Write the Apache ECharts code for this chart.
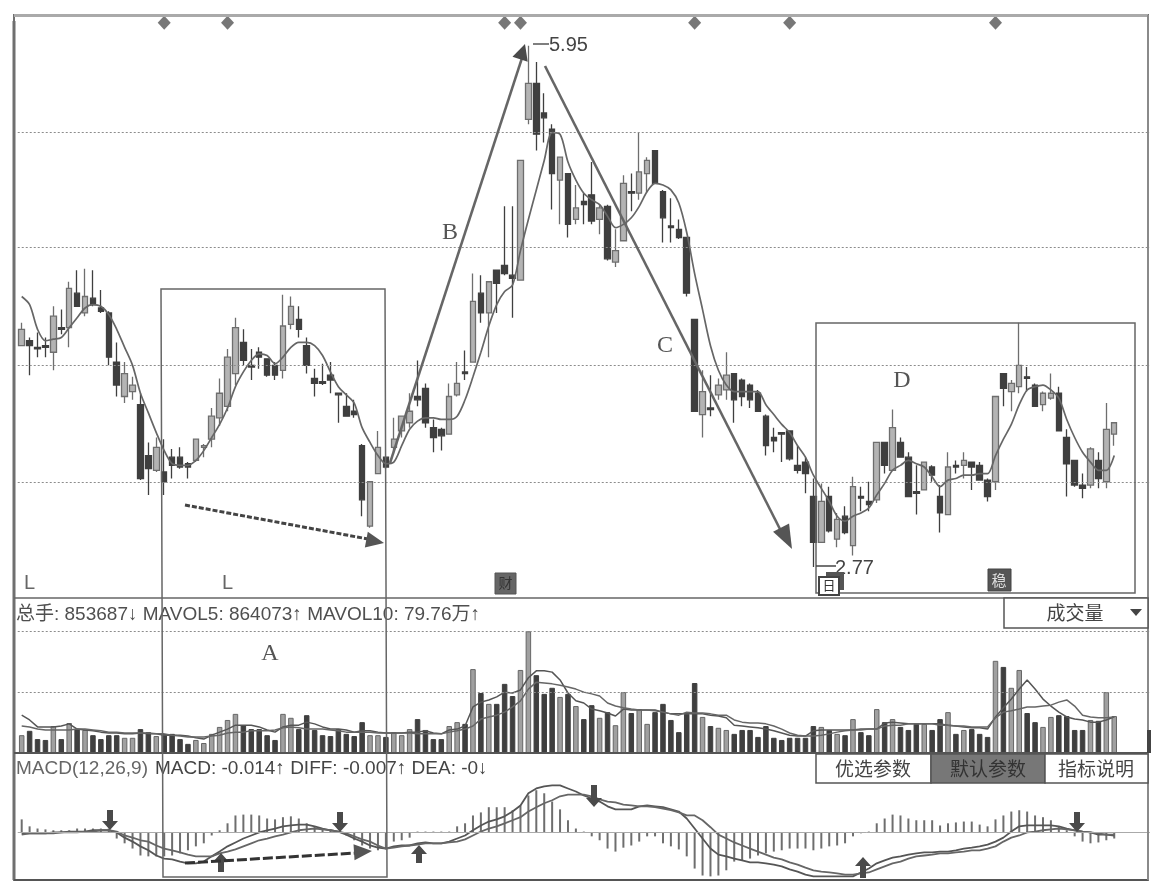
<!DOCTYPE html>
<html><head><meta charset="utf-8">
<style>html,body{margin:0;padding:0;background:#fff}#c{width:1168px;height:894px}</style>
<script src="https://cdn.jsdelivr.net/npm/echarts@6/dist/echarts.min.js"></script>
</head><body><div id="c"></div>
<script>
const opens=[4.12,4.15,4.11,4.12,4.08,4.23,4.23,4.44,4.32,4.41,
4.35,4.32,4.02,3.81,3.84,3.76,3.45,3.36,3.35,3.44,
3.44,3.40,3.42,3.50,3.55,3.68,3.75,3.95,4.14,4.00,
4.08,4.04,4.00,3.97,4.25,4.28,4.12,3.92,3.90,3.94,
3.83,3.75,3.72,3.51,3.02,3.34,3.44,3.50,3.60,3.65,
3.81,3.86,3.62,3.61,3.58,3.82,3.96,4.02,4.44,4.32,
4.58,4.61,4.55,4.52,5.50,5.72,5.54,5.44,5.13,5.17,
4.89,5.00,5.04,4.89,4.97,4.63,4.76,5.06,5.05,5.17,
5.31,5.06,4.85,4.83,4.78,4.28,3.70,3.74,3.82,3.85,
3.95,3.91,3.88,3.83,3.69,3.56,3.59,3.60,3.39,3.41,
3.20,2.92,3.20,2.94,3.08,2.90,3.20,3.17,3.18,3.53,
3.36,3.53,3.44,3.23,3.24,3.38,3.20,3.09,3.39,3.39,
3.41,3.39,3.30,3.29,3.95,3.84,3.87,3.93,3.88,3.76,
3.80,3.83,3.56,3.42,3.27,3.27,3.42,3.29,3.58];
const closes=[4.22,4.12,4.10,4.11,4.30,4.22,4.47,4.36,4.42,4.37,
4.33,4.05,3.88,3.95,3.88,3.31,3.37,3.50,3.29,3.39,
3.38,3.38,3.55,3.51,3.69,3.83,4.05,4.23,4.03,3.99,
4.05,3.94,3.94,4.24,4.36,4.22,4.00,3.89,3.89,3.91,
3.82,3.69,3.70,3.18,3.29,3.50,3.38,3.55,3.69,3.72,
3.79,3.65,3.56,3.57,3.81,3.89,3.95,4.39,4.32,4.51,
4.50,4.56,4.53,5.25,5.72,5.41,5.51,5.17,5.27,4.86,
4.96,4.98,4.88,4.96,4.65,4.70,5.11,5.05,5.18,5.25,
5.11,4.90,4.84,4.78,4.44,3.72,3.84,3.73,3.88,3.94,
3.79,3.81,3.79,3.72,3.51,3.54,3.58,3.43,3.36,3.34,
2.92,3.17,2.99,3.06,2.98,3.26,3.19,3.15,3.53,3.39,
3.62,3.44,3.20,3.22,3.41,3.33,3.10,3.38,3.38,3.42,
3.38,3.30,3.20,3.81,3.86,3.89,4.00,3.92,3.75,3.83,
3.83,3.60,3.40,3.27,3.25,3.49,3.31,3.61,3.65];
const highs=[4.26,4.17,4.20,4.17,4.36,4.34,4.51,4.58,4.59,4.58,
4.46,4.33,4.14,4.02,3.93,3.83,3.53,3.56,3.55,3.49,
3.50,3.41,3.55,3.52,3.74,3.92,4.10,4.29,4.22,4.10,
4.11,4.04,4.02,4.43,4.42,4.36,4.17,3.98,4.01,4.02,
3.83,3.83,3.79,3.52,3.29,3.60,3.44,3.68,3.69,3.83,
4.03,3.89,3.67,3.62,3.89,4.02,4.09,4.56,4.55,4.51,
4.58,4.97,4.97,5.25,5.95,5.85,5.66,5.47,5.27,5.17,
5.10,5.05,5.24,4.98,4.98,4.83,5.16,5.17,5.42,5.27,
5.31,5.07,5.02,4.89,4.78,4.28,3.97,3.94,3.92,4.08,
3.95,3.92,3.89,3.85,3.70,3.62,3.59,3.60,3.51,3.44,
3.31,3.28,3.26,3.10,3.14,3.32,3.26,3.29,3.53,3.53,
3.73,3.56,3.47,3.39,3.41,3.39,3.27,3.47,3.42,3.47,
3.41,3.41,3.31,3.81,3.95,3.91,4.26,3.99,3.89,3.84,
3.95,3.87,3.61,3.42,3.34,3.50,3.47,3.77,3.65];
const lows=[4.12,3.94,4.05,4.05,3.97,4.19,4.11,4.36,4.30,4.36,
4.32,4.00,3.81,3.77,3.79,3.30,3.21,3.35,3.21,3.31,
3.37,3.31,3.41,3.44,3.50,3.63,3.72,3.88,4.00,3.91,
3.98,3.93,3.91,3.92,4.22,4.17,3.95,3.81,3.88,3.83,
3.65,3.69,3.68,3.08,3.01,3.34,3.37,3.47,3.56,3.62,
3.75,3.62,3.47,3.48,3.58,3.81,3.91,4.02,4.26,4.05,
4.32,4.55,4.29,4.52,5.47,5.31,5.36,4.95,4.86,4.78,
4.86,4.86,4.86,4.80,4.64,4.60,4.76,4.94,5.01,5.05,
5.11,4.75,4.75,4.77,4.42,3.72,3.56,3.69,3.79,3.79,
3.65,3.75,3.74,3.72,3.45,3.47,3.41,3.42,3.34,3.22,
2.77,2.92,2.98,2.89,2.97,2.84,3.11,3.11,3.16,3.34,
3.36,3.44,3.20,3.09,3.24,3.29,2.98,3.09,3.34,3.31,
3.24,3.30,3.17,3.24,3.75,3.72,3.83,3.84,3.75,3.72,
3.79,3.60,3.20,3.26,3.19,3.25,3.25,3.25,3.51];
const priceMA=[4.42,4.37,4.22,4.15,4.16,4.17,4.23,4.29,4.35,4.37,
4.36,4.31,4.22,4.11,4.00,3.83,3.71,3.59,3.48,3.40,
3.39,3.39,3.42,3.48,3.56,3.64,3.74,3.87,3.96,4.03,
4.07,4.06,4.01,4.05,4.11,4.14,4.14,4.12,4.06,3.96,
3.87,3.82,3.77,3.62,3.53,3.45,3.40,3.41,3.51,3.61,
3.66,3.68,3.68,3.67,3.67,3.69,3.79,3.93,4.08,4.24,
4.37,4.45,4.49,4.70,4.89,5.07,5.25,5.42,5.41,5.24,
5.13,5.05,5.01,4.98,4.91,4.84,4.86,4.90,4.97,5.06,
5.11,5.10,5.07,4.99,4.81,4.56,4.34,4.12,3.97,3.88,
3.84,3.84,3.84,3.84,3.76,3.70,3.64,3.59,3.51,3.44,
3.33,3.25,3.17,3.08,3.05,3.08,3.10,3.13,3.21,3.28,
3.36,3.39,3.42,3.40,3.38,3.32,3.26,3.30,3.31,3.33,
3.33,3.34,3.34,3.45,3.55,3.64,3.76,3.85,3.87,3.88,
3.85,3.80,3.67,3.56,3.47,3.41,3.36,3.36,3.45];
const volumes=[41,51,32,30,62,32,69,55,53,41,
32,41,41,35,35,55,48,39,44,44,
32,21,30,23,44,60,76,90,64,55,
55,41,30,90,81,55,87,53,41,39,
55,44,39,71,41,41,37,48,41,55,
78,53,32,32,62,71,67,193,138,113,
113,159,131,191,280,179,136,150,129,136,
108,78,110,81,94,64,140,92,101,67,
94,113,76,48,90,161,83,62,58,53,
44,53,53,37,62,35,30,35,35,35,
62,60,53,44,41,78,48,41,101,71,
78,60,53,67,67,53,78,94,44,53,
55,44,37,212,198,150,191,92,71,60,
83,87,85,53,53,76,74,140,85];
const mavol5=[87,76,60,60,60,62,67,55,53,51,
48,46,46,44,44,46,44,44,41,41,
41,39,35,32,41,48,55,64,64,64,
60,53,48,60,64,64,71,67,60,55,
55,53,48,51,51,48,46,46,46,48,
48,51,46,44,53,55,62,106,117,122,
129,140,138,145,173,189,189,186,168,138,
120,115,101,97,92,85,101,99,99,99,
99,94,90,90,90,90,90,87,85,81,
64,62,60,58,55,51,46,41,39,39,
51,53,53,53,53,53,55,55,55,69,
71,69,67,67,67,67,67,64,62,60,
58,58,55,83,104,124,147,168,147,124,
108,94,83,78,76,71,71,76,83];
const mavol10=[62,60,55,53,53,53,53,55,55,53,
51,48,48,46,46,46,46,44,44,41,
39,37,37,37,39,41,46,48,48,51,
51,51,53,58,60,58,55,55,55,53,
51,48,48,48,48,46,46,46,46,46,
44,44,44,44,48,51,55,62,78,83,
87,94,106,120,147,163,161,159,156,152,
147,140,136,131,115,108,104,101,99,99,
97,94,90,87,94,92,92,90,87,87,
76,71,69,69,67,62,55,46,41,39,
39,41,44,48,51,53,53,55,55,62,
64,64,67,67,67,67,64,64,62,62,
60,60,60,81,94,97,101,106,106,108,
110,117,122,108,87,83,81,81,83];
const diffLine=[-.002,-.002,-.002,-.002,0,0,.002,.002,.002,.005,
.005,.005,0,-.012,-.021,-.032,-.041,-.053,-.060,-.062,
-.067,-.071,-.071,-.067,-.055,-.044,-.032,-.023,-.014,-.007,
0,.005,.009,.014,.016,.018,.018,.014,.009,.005,
.002,-.005,-.014,-.021,-.030,-.035,-.037,-.032,-.030,-.030,
-.025,-.023,-.025,-.025,-.021,-.014,-.007,.005,.016,.025,
.030,.037,.048,.062,.090,.101,.106,.108,.108,.101,
.094,.085,.078,.071,.060,.053,.053,.053,.060,.062,
.060,.058,.053,.048,.032,.009,-.014,-.037,-.051,-.055,
-.060,-.064,-.069,-.069,-.071,-.074,-.078,-.085,-.090,-.097,
-.101,-.101,-.101,-.101,-.101,-.101,-.092,-.083,-.071,-.064,
-.058,-.055,-.051,-.048,-.046,-.046,-.044,-.044,-.041,-.037,
-.035,-.032,-.028,-.021,-.012,.002,.014,.016,.016,.016,
.016,.014,.009,.005,.002,0,-.005,-.005,-.007];
const deaLine=[-.005,-.002,-.002,-.002,-.002,0,0,0,.002,.002,
.005,.005,.002,-.007,-.012,-.018,-.021,-.030,-.037,-.041,
-.046,-.051,-.055,-.055,-.055,-.048,-.044,-.039,-.032,-.025,
-.018,-.014,-.009,-.005,0,.005,.007,.009,.007,.005,
.002,-.002,-.009,-.016,-.021,-.030,-.037,-.035,-.032,-.030,
-.028,-.025,-.025,-.025,-.023,-.021,-.016,-.007,.002,.009,
.014,.021,.028,.035,.048,.058,.067,.074,.083,.087,
.087,.087,.083,.076,.071,.069,.064,.062,.060,.060,
.058,.055,.051,.046,.039,.039,.028,.012,-.005,-.014,
-.023,-.030,-.037,-.044,-.051,-.058,-.062,-.069,-.074,-.081,
-.087,-.090,-.092,-.094,-.097,-.097,-.094,-.092,-.085,-.078,
-.071,-.067,-.060,-.055,-.053,-.051,-.048,-.048,-.046,-.044,
-.041,-.041,-.037,-.032,-.021,-.012,-.007,0,.002,.005,
.007,.009,.007,.005,.002,0,-.002,-.005,-.005];
const macdHist=[.030,.014,.009,.007,.005,.005,.005,.009,.009,.009,
.009,.009,-.014,-.025,-.037,-.053,-.055,-.055,-.055,-.053,
-.048,-.041,-.032,-.025,-.007,.005,.021,.039,.041,.041,
.039,.032,.030,.035,.037,.032,.021,.014,.009,.007,
.002,-.007,-.018,-.030,-.037,-.041,-.037,-.021,-.018,-.012,
.002,.002,.002,.002,.002,.014,.021,.039,.046,.058,
.058,.058,.051,.062,.085,.097,.090,.071,.053,.028,
.009,.002,-.009,-.018,-.037,-.044,-.035,-.030,-.021,-.009,
-.009,-.025,-.032,-.039,-.055,-.083,-.099,-.101,-.099,-.087,
-.067,-.064,-.060,-.053,-.048,-.044,-.041,-.037,-.037,-.037,
-.041,-.037,-.032,-.030,-.025,-.009,-.002,.002,.021,.032,
.041,.039,.032,.028,.028,.028,.016,.021,.023,.025,
.025,.018,.014,.030,.039,.048,.051,.048,.039,.035,
.028,.014,.005,-.009,-.021,-.025,-.023,-.018,-.014];
const priceLevels=[5.42,4.72,4.00,3.29];
const volumeLevels=[140.3,280];
const macdLevels=[.108];
const signalBars=[18,26,61,63,85,97,123];
const signalPrice=6.09;

const categories=Array.from({length:opens.length+4},(_,i)=>String(i+1));
const candleData=opens.map((o,i)=>[o,closes[i],lows[i],highs[i]]);
const UP='#b4b4b4',DOWN='#3f3f3f',EDGE='#6e6e6e';
const volData=volumes.map((v,i)=>({value:v,itemStyle:closes[i]>=opens[i]?{color:'#a0a0a0',borderColor:'#666',borderWidth:1}:{color:DOWN,borderColor:DOWN,borderWidth:1}}));
const FRAME='#6f6f6f',INK='#555';
const SANS='"Liberation Sans","Noto Sans CJK SC",sans-serif';
const SERIF='"Liberation Serif","DejaVu Serif",serif';
const g=[];
const line=(x1,y1,x2,y2,stroke,w,dash)=>g.push({type:'line',shape:{x1,y1,x2,y2},style:{stroke,lineWidth:w,lineDash:dash||null}});
const poly=(pts,fill,stroke,w)=>g.push({type:'polygon',shape:{points:pts},style:{fill:fill||'none',stroke:stroke||null,lineWidth:w||0}});
const text=(s,x,y,font,fill,align)=>g.push({type:'text',style:{text:s,x,y,font,fill:fill||INK,textAlign:align||'left',textVerticalAlign:'middle'}});
const rect=(x,y,width,height,fill,stroke,w)=>g.push({type:'rect',shape:{x,y,width,height},style:{fill:fill||'none',stroke:stroke||null,lineWidth:w||0}});
function head(x1,y1,x2,y2,len,wid,col){const a=Math.atan2(y2-y1,x2-x1),c=Math.cos(a),s=Math.sin(a);
 poly([[x2,y2],[x2-len*c-wid*s,y2-len*s+wid*c],[x2-len*c+wid*s,y2-len*s-wid*c]],col);}
function block(x,yTail,yTip,col){const d=yTip>yTail?1:-1;
 poly([[x,yTip],[x-8,yTip-d*9],[x-3,yTip-d*9],[x-3,yTail],[x+3,yTail],[x+3,yTip-d*9],[x+8,yTip-d*9]],col||'#4a4a4a');}
// frame
rect(14,15,1134,865,null,FRAME,2);
line(14,15.5,1148,15.5,'#aaa',3);
line(14,21,14,880,FRAME,3);
line(14,598,1148,598,'#666',1.5);
line(14,753,1148,753,'#555',2);
line(14,880,1148,880,'#555',2);
line(1148,15,1148,880,'#8a8a8a',2);
line(1149,730,1149,753,'#444',4);
// dropdown & buttons
rect(1004,598,144,30,'#fff','#555',1.5);
text('成交量',1075,615,'19px '+SANS,'#444','center');
poly([[1130,609],[1142,609],[1136,616]],'#444');
rect(816,754,115,29,'#fff','#555',1.5);
rect(931,754,114,29,'#777','#555',1.5);
rect(1045,754,103,29,'#fff','#555',1.5);
text('优选参数',873,771,'19px '+SANS,'#444','center');
text('默认参数',988,771,'19px '+SANS,'#333','center');
text('指标说明',1096,771,'19px '+SANS,'#444','center');
// headers
text('总手: 853687↓ MAVOL5: 864073↑ MAVOL10: 79.76万↑',16,615,'19px '+SANS,'#4f4f4f');
text('MACD(12,26,9)',16,769,'19px '+SANS,'#666');
text('MACD: -0.014↑ DIFF: -0.007↑ DEA: -0↓',155,769,'19px '+SANS,'#444');
// boxes
poly([[161,289],[385,289],[387,877],[163,877]],null,'#666',1.5);
poly([[816,323],[1135,323],[1135,593],[816,593]],null,'#666',1.5);
// letters
text('A',270,654,'24px '+SERIF,'#555','center');
text('B',450,233,'24px '+SERIF,'#555','center');
text('C',665,346,'24px '+SERIF,'#555','center');
text('D',902,381,'24px '+SERIF,'#555','center');
// trend arrows
line(390,463,522,58,'#666',2.5);
head(390,463,525,44,16,8,'#4a4a4a');
line(533,44,549,44,'#555',1.5);
text('5.95',549,45,'20px '+SANS,'#444');
line(545,66,783,535,'#666',2.6);
head(545,66,792,549,24,9,'#555');
line(185,505,368,539,'#444',3,[5,2]);
head(185,505,384,543,18,8,'#555');
// low label & icons
line(816,566,836,566,'#444',1.5);
text('2.77',835,568,'20px '+SANS,'#444');
text('L',24,583,'20px '+SANS,'#666');
text('L',222,583,'20px '+SANS,'#666');
rect(495,573,21,21,'#666','#555',1);
text('财',505.5,584,'14px '+SANS,'#333','center');
rect(826,572,18,18,'#555');
rect(819,577,20,18,'#fff','#444',2);
text('日',829,586,'13px '+SANS,'#333','center');
rect(988,569,23,22,'#555','#444',1);
text('稳',999,582,'15px '+SANS,'#ddd','center');
// macd arrows
block(110,810,830);block(340,812,832);block(594,785,807);block(1077,812,832);
block(221,872,853);block(419,863,845);block(863,878,857);
line(185,863,356,853,'#333',3,[10,3]);
head(185,863,372,851,18,8,'#555');

const chart=echarts.init(document.getElementById('c'),null,{renderer:'canvas'});
const GL=17.74,GW=categories.length*7.917;
const ax=(i)=>({type:'category',gridIndex:i,data:categories,show:false});
const ay=(i,min,max)=>({type:'value',gridIndex:i,min,max,show:false,splitLine:{show:false}});
const ml=(vals,extra)=>({silent:true,symbol:'none',label:{show:false},animation:false,lineStyle:Object.assign({color:'#8c8c8c',type:[2,2],width:1},extra||{}),data:vals.map(v=>({yAxis:v}))});
chart.setOption({
 animation:false,backgroundColor:'#fff',
 grid:[{left:GL,width:GW,top:15,height:583},{left:GL,width:GW,top:631,height:122},{left:GL,width:GW,top:785,height:94}],
 xAxis:[ax(0),ax(1),ax(2)],
 yAxis:[ay(0,2.581,6.137),ay(1,0,280.6),ay(2,-.107,.109)],
 series:[
  {type:'candlestick',name:'K',xAxisIndex:0,yAxisIndex:0,data:candleData,barWidth:6,
   itemStyle:{color:UP,color0:DOWN,borderColor:EDGE,borderColor0:DOWN,borderWidth:1.3},markLine:ml(priceLevels)},
  {type:'line',name:'MA',xAxisIndex:0,yAxisIndex:0,data:priceMA,smooth:.3,showSymbol:false,lineStyle:{color:'#666',width:1.7},z:4},
  {type:'scatter',name:'signal',xAxisIndex:0,yAxisIndex:0,data:signalBars.map(i=>[i,signalPrice]),symbol:'diamond',symbolSize:[13,14],itemStyle:{color:'#555'}},
  {type:'bar',name:'VOL',xAxisIndex:1,yAxisIndex:1,data:volData,barWidth:5.5,markLine:ml(volumeLevels)},
  {type:'line',name:'MAVOL5',xAxisIndex:1,yAxisIndex:1,data:mavol5,showSymbol:false,lineStyle:{color:'#555',width:1.5},z:4},
  {type:'line',name:'MAVOL10',xAxisIndex:1,yAxisIndex:1,data:mavol10,showSymbol:false,lineStyle:{color:'#666',width:1.5},z:4},
  {type:'bar',name:'MACD',xAxisIndex:2,yAxisIndex:2,data:macdHist,barWidth:2,itemStyle:{color:'#6e6e6e'},markLine:ml(macdLevels)},
  {type:'line',name:'DIFF',xAxisIndex:2,yAxisIndex:2,data:diffLine,showSymbol:false,lineStyle:{color:'#555',width:1.8},z:4},
  {type:'line',name:'DEA',xAxisIndex:2,yAxisIndex:2,data:deaLine,showSymbol:false,lineStyle:{color:'#666',width:1.8},z:4},
  {type:'line',name:'zero',xAxisIndex:2,yAxisIndex:2,data:[],markLine:ml([0],{type:'solid',color:'#aaa'})}
 ],
 graphic:{elements:g.map(e=>Object.assign({silent:true,z:50},e))}
});
</script></body></html>
